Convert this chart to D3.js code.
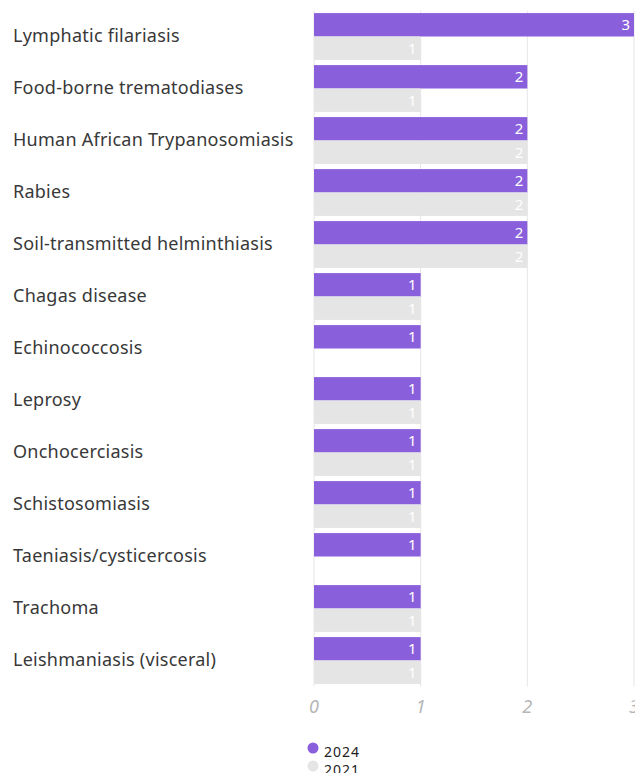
<!DOCTYPE html>
<html>
<head>
<meta charset="utf-8">
<script src="https://cdn.jsdelivr.net/npm/d3@7"></script>
<style>
  html, body { margin: 0; padding: 0; background: #fff; overflow: hidden; }
  svg { display: block; }
</style>
</head>
<body>
<svg id="chart" width="635" height="773"></svg>
<script>
// Neglected tropical diseases: count per disease, 2024 vs 2021
const categories = [
  "Lymphatic filariasis",
  "Food-borne trematodiases",
  "Human African Trypanosomiasis",
  "Rabies",
  "Soil-transmitted helminthiasis",
  "Chagas disease",
  "Echinococcosis",
  "Leprosy",
  "Onchocerciasis",
  "Schistosomiasis",
  "Taeniasis/cysticercosis",
  "Trachoma",
  "Leishmaniasis (visceral)"
];
const values2024 = [3, 2, 2, 2, 2, 1, 1, 1, 1, 1, 1, 1, 1];
const values2021 = [1, 1, 2, 2, 2, 1, null, 1, 1, 1, null, 1, 1];
const seriesNames = ["2024", "2021"];
const xTicks = [0, 1, 2, 3];

const colors = { "2024": "#8a5fdc", "2021": "#e5e5e5" };

const svg = d3.select("#chart");
const plotLeft = 314, plotRight = 634;
const plotTop = 10.5, plotBottom = 686.5;

const x = d3.scaleLinear().domain([0, 3]).range([plotLeft, plotRight]);
const y = d3.scaleBand().domain(categories).range([plotTop, plotBottom]).paddingInner(0.1).paddingOuter(0.05);
const sub = d3.scaleBand().domain(seriesNames).range([0, y.bandwidth()]);

// vertical gridlines
svg.append("g")
  .selectAll("line")
  .data(xTicks)
  .join("line")
  .attr("x1", d => x(d)).attr("x2", d => x(d))
  .attr("y1", plotTop).attr("y2", plotBottom)
  .attr("stroke", "#e6e6e6")
  .attr("stroke-width", 1);

const rows = categories.map((c, i) => ({
  cat: c,
  bars: [
    { key: "2024", v: values2024[i] },
    { key: "2021", v: values2021[i] }
  ].filter(b => b.v != null)
}));

const rowG = svg.append("g").selectAll("g")
  .data(rows)
  .join("g")
  .attr("transform", d => `translate(0,${y(d.cat)})`);

rowG.selectAll("rect")
  .data(d => d.bars)
  .join("rect")
  .attr("x", x(0))
  .attr("y", d => sub(d.key))
  .attr("width", d => x(d.v) - x(0))
  .attr("height", sub.bandwidth())
  .attr("fill", d => colors[d.key]);

rowG.selectAll("text.val")
  .data(d => d.bars)
  .join("text")
  .attr("class", "val")
  .attr("x", d => x(d.v) - 4)
  .attr("y", d => sub(d.key) + sub.bandwidth() / 2)
  .attr("dy", "0.36em")
  .attr("text-anchor", "end")
  .attr("fill", "#fff")
  .attr("font-family", "Noto Sans, sans-serif")
  .attr("font-size", 15)
  .text(d => d.v);

// category labels
svg.append("g")
  .selectAll("text")
  .data(categories)
  .join("text")
  .attr("x", 13)
  .attr("y", d => y(d) + y.bandwidth() / 2 - 1)
  .attr("dy", "0.36em")
  .attr("fill", "#383838")
  .attr("font-family", "Noto Sans, sans-serif")
  .attr("font-size", 18)
  .attr("letter-spacing", 0.25)
  .text(d => d);

// x axis tick labels
svg.append("g")
  .selectAll("text")
  .data(xTicks)
  .join("text")
  .attr("x", d => x(d))
  .attr("y", 713)
  .attr("text-anchor", "middle")
  .attr("fill", "#b5b5b5")
  .attr("font-family", "Noto Sans, sans-serif")
  .attr("font-style", "italic")
  .attr("font-size", 18)
  .text(d => d);

// legend
const legend = svg.append("g")
  .selectAll("g")
  .data(seriesNames)
  .join("g")
  .attr("transform", (d, i) => `translate(313,${748 + i * 18})`);
legend.append("circle")
  .attr("r", 5.5)
  .attr("fill", d => colors[d]);
legend.append("text")
  .attr("x", 11)
  .attr("y", 9)
  .attr("fill", "#222")
  .attr("font-family", "Noto Sans, sans-serif")
  .attr("font-size", 14)
  .attr("letter-spacing", 1)
  .text(d => d);
</script>
</body>
</html>
